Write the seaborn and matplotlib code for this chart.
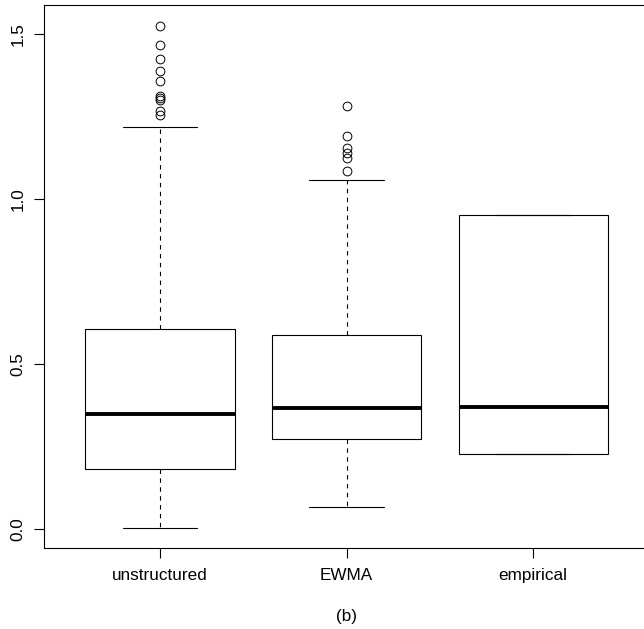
import matplotlib
matplotlib.use("Agg")
import matplotlib.pyplot as plt
import seaborn as sns
import pandas as pd

# categories on the x axis
methods = ["unstructured", "EWMA", "empirical"]

# box summaries: lower whisker, Q1, median, Q3, upper whisker
unstructured_stats = [0.005, 0.181, 0.348, 0.606, 1.217]
ewma_stats = [0.068, 0.272, 0.366, 0.588, 1.057]

# points drawn beyond the whiskers
unstructured_outliers = [1.525, 1.468, 1.424, 1.388, 1.357, 1.313, 1.305, 1.300, 1.266, 1.254]
ewma_outliers = [1.283, 1.191, 1.154, 1.139, 1.124, 1.085]

# the empirical group is a handful of values, no whiskers, no outliers
empirical_values = [0.228, 0.228, 0.370, 0.953, 0.953]


def sample_from(stats, outliers):
    # a sample whose linear quartiles and whisker ends are exactly the stats above
    lo, q1, med, q3, hi = stats
    k = len(outliers) + 1
    return [lo] + [q1] * k + [med] * k + [q3] * k + [hi] + sorted(outliers)


groups = {
    "unstructured": sample_from(unstructured_stats, unstructured_outliers),
    "EWMA": sample_from(ewma_stats, ewma_outliers),
    "empirical": empirical_values,
}
rows = [(m, v) for m in methods for v in groups[m]]
df = pd.DataFrame(rows, columns=["method", "value"])

sns.set_theme(style="ticks")
plt.rcParams["font.family"] = ["Liberation Sans", "DejaVu Sans"]

fig = plt.figure(figsize=(6.44, 6.29), dpi=100)
ax = fig.add_axes([44.3 / 644, 81.3 / 629, 604.6 / 644, 542.4 / 629])

sns.boxplot(data=df, x="method", y="value", order=methods, ax=ax,
            width=0.8, whis=1.5, color="white", linecolor="black",
            linewidth=0.8, saturation=1,
            medianprops=dict(color="black", linewidth=2.8),
            whiskerprops=dict(color="black", linewidth=0.8, linestyle=(0, (4, 4))),
            capprops=dict(color="black", linewidth=0.8),
            flierprops=dict(marker="o", markerfacecolor="none",
                            markeredgecolor="black", markersize=6.3,
                            markeredgewidth=0.7))

ax.set_xlim(-0.62, 2.62)
ax.set_ylim(-0.056, 1.587)
ax.set_yticks([0.0, 0.5, 1.0, 1.5])
ax.set_yticklabels(["0.0", "0.5", "1.0", "1.5"], rotation=90, va="center")
ax.tick_params(axis="both", direction="out", length=7.5, width=0.8,
               color="black", labelsize=12.3, labelcolor="black")
ax.tick_params(axis="x", pad=7)
ax.tick_params(axis="y", pad=6)
for side in ["left", "right", "top", "bottom"]:
    ax.spines[side].set_visible(True)
    ax.spines[side].set_color("black")
    ax.spines[side].set_linewidth(0.8)

ax.set_ylabel("")
ax.set_xlabel("(b)", fontsize=12.3, labelpad=19, color="black")

fig.savefig("out.png", dpi=100, facecolor="white")
